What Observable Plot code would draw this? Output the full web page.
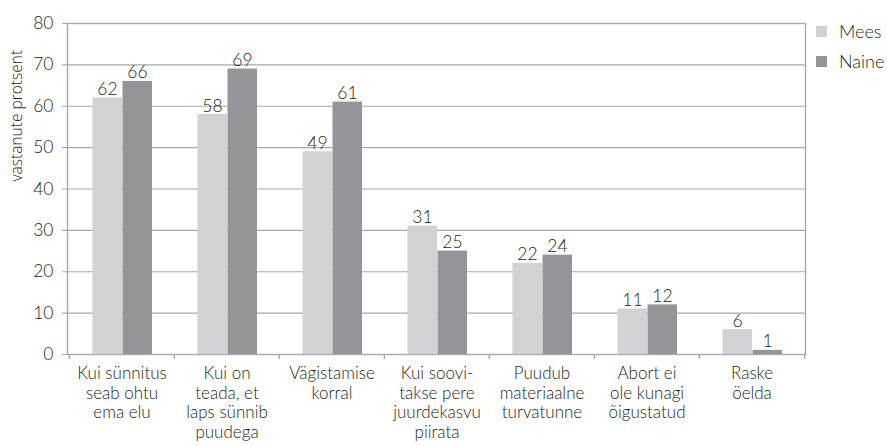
<!DOCTYPE html>
<html>
<head>
<meta charset="utf-8">
<script src="https://cdn.jsdelivr.net/npm/d3@7"></script>
<script src="https://cdn.jsdelivr.net/npm/@observablehq/plot@0.6"></script>
<style>
  html, body { margin: 0; padding: 0; background: #fff; }
  #wrap { position: relative; width: 887px; height: 446px; font-family: Lato, "Open Sans", sans-serif; font-weight: 300; color: #231f20; }
  #wrap svg text { font-weight: 300; }
  #legend { position: absolute; left: 816px; top: 16px; font-size: 18px; }
  #legend .row { display: flex; align-items: center; height: 30px; }
  #legend .sw { width: 11px; height: 11px; margin-right: 12px; }
</style>
</head>
<body>
<div id="wrap"></div>
<script>
const categories = [
  "Kui sünnitus\nseab ohtu\nema elu",
  "Kui on\nteada, et\nlaps sünnib\npuudega",
  "Vägistamise\nkorral",
  "Kui soovi-\ntakse pere\njuurdekasvu\npiirata",
  "Puudub\nmateriaalne\nturvatunne",
  "Abort ei\nole kunagi\nõigustatud",
  "Raske\nöelda"
];
const series = ["Mees", "Naine"];
const mees = [62, 58, 49, 31, 22, 11, 6];
const naine = [66, 69, 61, 25, 24, 12, 1];
const yTicks = [0, 10, 20, 30, 40, 50, 60, 70, 80];
const colors = ["#d1d2d4", "#939598"];

const dataMees = categories.map((c, i) => ({category: c, sex: "Mees", value: mees[i]}));
const dataNaine = categories.map((c, i) => ({category: c, sex: "Naine", value: naine[i]}));

const gridColor = "#a7a9ac";
const textColor = "#231f20";

const chart = Plot.plot({
  width: 887,
  height: 446,
  marginLeft: 67,
  marginRight: 82,
  marginTop: 23,
  marginBottom: 92,
  style: {fontFamily: "Lato, 'Open Sans', sans-serif", color: textColor, background: "#fff"},
  x: {domain: categories, padding: 0, axis: null},
  y: {domain: [0, 80], axis: null},
  marks: [
    Plot.ruleY(yTicks, {y: d => d, stroke: gridColor, strokeWidth: 1.2, insetLeft: -5}),
    Plot.frame({stroke: gridColor, strokeWidth: 1.4}),
    Plot.barY(dataMees, {x: "category", y: "value", fill: colors[0], insetLeft: 23.5, insetRight: 52}),
    Plot.barY(dataNaine, {x: "category", y: "value", fill: colors[1], insetLeft: 53.5, insetRight: 22}),
    Plot.text(dataMees, {x: "category", y: "value", text: d => String(d.value), dx: -14.5, dy: -3, lineAnchor: "bottom", fontSize: 17.5, fill: textColor}),
    Plot.text(dataNaine, {x: "category", y: "value", text: d => String(d.value), dx: 15.5, dy: -3, lineAnchor: "bottom", fontSize: 17.5, fill: textColor}),
    Plot.ruleX(categories, {x: d => d, y1: 0, y2: 0, insetBottom: -5, dx: -52.7, stroke: gridColor, strokeWidth: 1.4}),
    Plot.ruleX([categories[categories.length - 1]], {x: d => d, y1: 0, y2: 0, insetBottom: -5, dx: 52.7, stroke: gridColor, strokeWidth: 1.4}),
    Plot.text(categories, {x: d => d, y: 0, text: d => d, dy: 11, lineAnchor: "top", lineHeight: 1.15, fontSize: 17, fill: textColor}),
    Plot.text(yTicks, {y: d => d, text: d => String(d), frameAnchor: "left", dx: -14, textAnchor: "end", fontSize: 17.5, fill: textColor}),
    Plot.text(["vastanute protsent"], {frameAnchor: "left", dx: -50, dy: -7.5, rotate: -90, fontSize: 15.5, fontFamily: "'Open Sans', sans-serif", fill: textColor})
  ]
});

const wrap = document.getElementById("wrap");
wrap.appendChild(chart);
const legend = document.createElement("div");
legend.id = "legend";
series.forEach((s, i) => {
  const row = document.createElement("div");
  row.className = "row";
  const sw = document.createElement("span");
  sw.className = "sw";
  sw.style.background = colors[i];
  const lab = document.createElement("span");
  lab.textContent = s;
  row.appendChild(sw);
  row.appendChild(lab);
  legend.appendChild(row);
});
wrap.appendChild(legend);
</script>
</body>
</html>
